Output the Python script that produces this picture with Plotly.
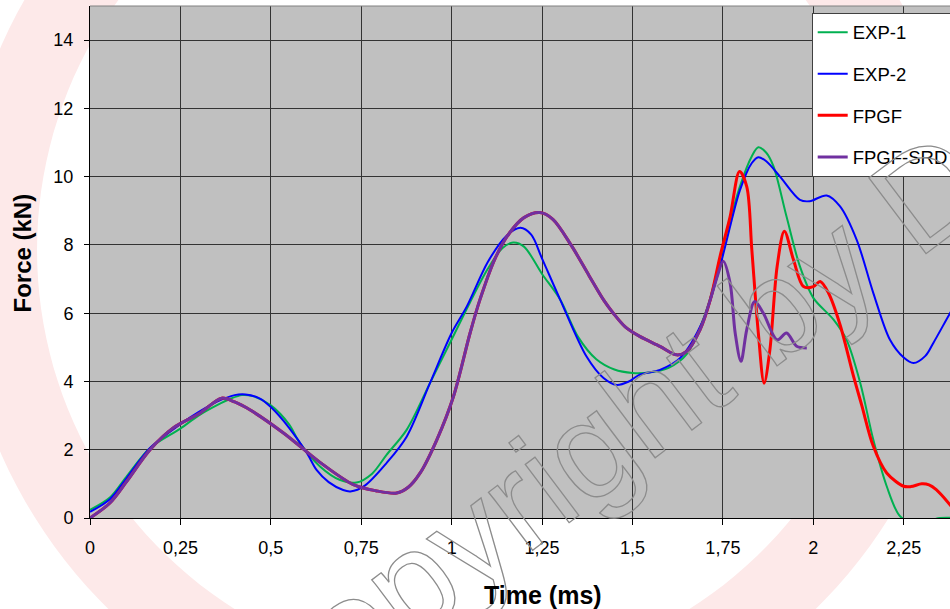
import numpy as np
import plotly.graph_objects as go

# ---------------- data ----------------
exp1_t = [0.00, 0.055, 0.10, 0.166, 0.25, 0.30, 0.35, 0.39, 0.42, 0.45, 0.50, 0.55, 0.58, 0.636,
          0.69, 0.737, 0.78, 0.82, 0.876, 0.94, 1.00, 1.05, 1.10, 1.14, 1.17, 1.20, 1.25, 1.30,
          1.35, 1.40, 1.45, 1.50, 1.55, 1.60, 1.65, 1.705, 1.751, 1.797, 1.83, 1.848, 1.87, 1.89,
          1.926, 1.963, 2.00, 2.056, 2.092, 2.13, 2.166, 2.203, 2.24, 2.28, 2.33, 2.35, 2.40]
exp1_f = [0.24, 0.60, 1.20, 2.05, 2.62, 3.00, 3.30, 3.50, 3.60, 3.57, 3.30, 2.75, 2.20, 1.51,
          1.12, 1.04, 1.30, 1.85, 2.59, 3.95, 5.23, 6.30, 7.30, 7.90, 8.07, 7.95, 7.15, 6.40,
          5.30, 4.65, 4.35, 4.25, 4.27, 4.40, 4.80, 6.10, 7.96, 9.71, 10.60, 10.86, 10.70, 10.30,
          8.83, 7.37, 6.45, 5.81, 5.22, 3.95, 2.29, 0.93, 0.05, -0.15, -0.05, 0.0, 0.0]

exp2_t = [0.00, 0.055, 0.10, 0.166, 0.25, 0.30, 0.35, 0.40, 0.43, 0.47, 0.50, 0.55, 0.60, 0.627,
          0.66, 0.70, 0.72, 0.76, 0.82, 0.876, 0.94, 1.00, 1.042, 1.10, 1.15, 1.19, 1.22, 1.25,
          1.30, 1.373, 1.42, 1.456, 1.49, 1.52, 1.576, 1.632, 1.696, 1.742, 1.797, 1.83, 1.848,
          1.87, 1.908, 1.963, 1.99, 2.037, 2.074, 2.12, 2.166, 2.212, 2.25, 2.277, 2.31, 2.332,
          2.378, 2.40]
exp2_f = [0.18, 0.55, 1.15, 2.05, 2.75, 3.10, 3.40, 3.60, 3.62, 3.50, 3.25, 2.65, 1.90, 1.40,
          1.05, 0.82, 0.78, 0.95, 1.61, 2.39, 3.95, 5.42, 6.20, 7.50, 8.25, 8.50, 8.30, 7.60,
          6.40, 4.73, 4.10, 3.90, 4.00, 4.20, 4.34, 4.69, 5.81, 7.37, 9.60, 10.40, 10.57,
          10.45, 10.00, 9.32, 9.28, 9.45, 9.13, 8.15, 6.59, 5.22, 4.70, 4.54, 4.75, 5.13,
          6.00, 6.40]

fpgf_t = [0.00, 0.055, 0.10, 0.166, 0.23, 0.304, 0.364, 0.40, 0.442, 0.535, 0.636, 0.728, 0.79,
          0.848, 0.88, 0.913, 0.959, 1.005, 1.051, 1.078, 1.12, 1.16, 1.20, 1.244, 1.28, 1.33,
          1.38, 1.42, 1.447, 1.48, 1.52, 1.576, 1.622, 1.65, 1.687, 1.715, 1.742, 1.77, 1.796,
          1.816, 1.83, 1.848, 1.864, 1.88, 1.90, 1.92, 1.945, 1.973, 2.00, 2.019, 2.042, 2.074,
          2.11, 2.134, 2.166, 2.203, 2.25, 2.27, 2.30, 2.32, 2.34, 2.378, 2.40]
fpgf_f = [0.00, 0.44, 1.05, 2.00, 2.64, 3.07, 3.51, 3.40, 3.17, 2.49, 1.63, 0.98, 0.80,
          0.73, 0.90, 1.32, 2.29, 3.56, 5.42, 6.39, 7.60, 8.35, 8.80, 8.95, 8.75, 8.00,
          7.10, 6.39, 6.00, 5.60, 5.32, 5.03, 4.78, 4.88, 5.52, 6.39, 7.66, 8.83, 10.15,
          9.71, 7.86, 5.42, 3.95, 4.93, 7.37, 8.40, 7.57, 6.78, 6.78, 6.93, 6.59, 5.66,
          4.20, 3.30, 2.10, 1.32, 0.93, 0.92, 1.00, 0.97, 0.83, 0.39, 0.10]

srd_t = [0.00, 0.055, 0.10, 0.166, 0.23, 0.304, 0.364, 0.40, 0.442, 0.535, 0.636, 0.728, 0.79,
         0.848, 0.88, 0.913, 0.959, 1.005, 1.051, 1.078, 1.12, 1.16, 1.20, 1.244, 1.28, 1.33,
         1.38, 1.42, 1.447, 1.48, 1.52, 1.576, 1.622, 1.65, 1.687, 1.715, 1.735, 1.751, 1.77,
         1.784, 1.80, 1.816, 1.838, 1.862, 1.90, 1.926, 1.954, 1.982]
srd_f = [0.00, 0.44, 1.05, 2.00, 2.64, 3.07, 3.51, 3.40, 3.17, 2.49, 1.63, 0.98, 0.80,
         0.73, 0.90, 1.32, 2.29, 3.56, 5.42, 6.39, 7.60, 8.35, 8.80, 8.95, 8.75, 8.00,
         7.10, 6.39, 6.00, 5.60, 5.32, 5.03, 4.78, 4.88, 5.52, 6.39, 7.10, 7.52, 6.88,
         5.42, 4.59, 5.52, 6.34, 6.00, 5.22, 5.42, 5.03, 4.98]

series_names = ["EXP-1", "EXP-2", "FPGF", "FPGF-SRD"]
series_colors = ["#00b050", "#0000ff", "#ff0000", "#7030a0"]
series_widths = [2, 2, 3, 3]

x_tickvals = [0, 0.25, 0.5, 0.75, 1, 1.25, 1.5, 1.75, 2, 2.25]
x_ticktext = ["0", "0,25", "0,5", "0,75", "1", "1,25", "1,5", "1,75", "2", "2,25"]
y_tickvals = [0, 2, 4, 6, 8, 10, 12, 14]

# ---------------- figure ----------------
W, H = 950, 609
L, R, T, B = 90, 0, 6, 91
pw, ph = W - L - R, H - T - B


def px2paper(px, py):
    return (px - L) / pw, (H - B - py) / ph


fig = go.Figure()
data = [(exp1_t, exp1_f), (exp2_t, exp2_f), (fpgf_t, fpgf_f), (srd_t, srd_f)]
for i, (tt, ff) in enumerate(data):
    fig.add_trace(go.Scatter(
        x=tt, y=ff, mode="lines", name=series_names[i],
        line=dict(color=series_colors[i], width=series_widths[i], shape="spline", smoothing=0.9),
        legendgroup=series_names[i],
    ))

# pale pink watermark ring (drawn below a grey plot-area rectangle)
cx, cy, r_in, r_out = 462, 250, 425, 504
ang = np.linspace(0, 2 * np.pi, 181)
outer = [px2paper(cx + r_out * np.cos(a), cy + r_out * np.sin(a)) for a in ang]
inner = [px2paper(cx + r_in * np.cos(a), cy + r_in * np.sin(a)) for a in ang[::-1]]


def path_of(pts):
    return "M" + " L".join(f"{x:.4f},{y:.4f}" for x, y in pts) + " Z"


shapes = [
    dict(type="path", xref="paper", yref="paper", layer="below",
         path=path_of(outer) + " " + path_of(inner),
         fillcolor="#fde9e9", line=dict(width=0)),
    dict(type="rect", xref="paper", yref="paper", layer="below",
         x0=0, x1=1, y0=0, y1=1, fillcolor="#c0c0c0", line=dict(width=0)),
    dict(type="line", xref="paper", yref="paper", x0=0, x1=1, y0=1, y1=1,
         line=dict(color="#808080", width=1)),
]

font_family = "Liberation Sans, Arial, sans-serif"
wx, wy = px2paper(603, 437)
ax_x, ax_y = px2paper(542.5, 595)
ay_x, ay_y = px2paper(21.5, 253)
annotations = [
    dict(text='<span style="fill:none;stroke:#8c8c8c;stroke-width:1.3px">Copyright by D</span>',
         xref="paper", yref="paper", x=wx, y=wy, xanchor="center", yanchor="middle",
         showarrow=False, textangle=-37,
         font=dict(family=font_family, size=138, color="#8c8c8c")),
    dict(text="Time (ms)", xref="paper", yref="paper", x=ax_x, y=ax_y,
         xanchor="center", yanchor="middle", showarrow=False,
         font=dict(family=font_family, size=25, color="black", weight="bold")),
    dict(text="Force (kN)", xref="paper", yref="paper", x=ay_x, y=ay_y,
         xanchor="center", yanchor="middle", showarrow=False, textangle=-90,
         font=dict(family=font_family, size=24, color="black", weight="bold")),
]

lx, ly = px2paper(811.7, 12.7)
fig.update_layout(
    width=W, height=H,
    margin=dict(l=L, r=R, t=T, b=B, pad=0, autoexpand=False),
    paper_bgcolor="white", plot_bgcolor="#c0c0c0",
    font=dict(family=font_family, size=18, color="black"),
    showlegend=True,
    legend=dict(x=lx, y=ly, xanchor="left", yanchor="top", bgcolor="white",
                bordercolor="#404040", borderwidth=1, font=dict(size=18.5, color="black"),
                traceorder="grouped", tracegroupgap=14.5, itemwidth=30),
    shapes=shapes, annotations=annotations,
    xaxis=dict(range=[0, 2.378], tickvals=x_tickvals, ticktext=x_ticktext,
               showgrid=True, gridcolor="#333333", gridwidth=1, zeroline=False,
               showline=True, linecolor="black", linewidth=1,
               ticks="outside", ticklen=6, tickcolor="black", ticklabelstandoff=7,
               tickfont=dict(size=18, color="black"), layer="below traces"),
    yaxis=dict(range=[0, 15], tickvals=y_tickvals,
               showgrid=True, gridcolor="#333333", gridwidth=1, zeroline=False,
               showline=True, linecolor="black", linewidth=1,
               ticks="outside", ticklen=5, tickcolor="black", ticklabelstandoff=7,
               tickfont=dict(size=18, color="black"), layer="below traces"),
)

fig.write_html("out.html", config={"displayModeBar": False},
               post_script="document.body.style.margin='0';document.body.style.overflow='hidden';")
